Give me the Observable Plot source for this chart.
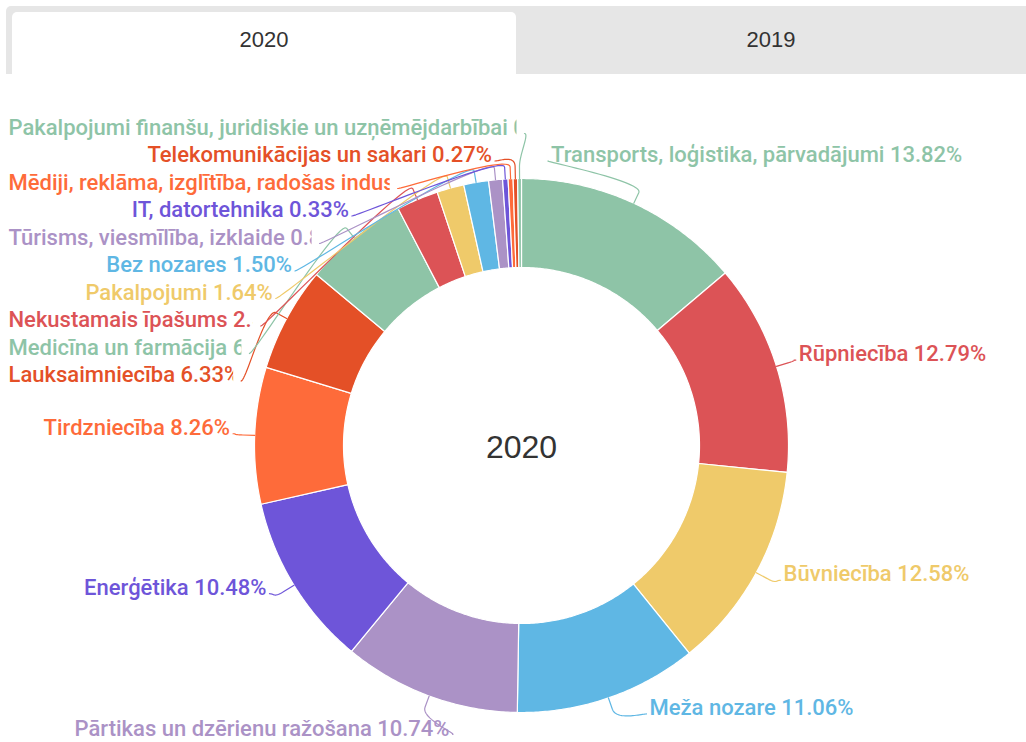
<!DOCTYPE html>
<html><head><meta charset="utf-8">
<script src="https://cdn.jsdelivr.net/npm/d3@7"></script>
<script src="https://cdn.jsdelivr.net/npm/@observablehq/plot@0.6"></script>
<style>
html,body{margin:0;padding:0;background:#fff;width:1026px;height:742px;overflow:hidden;font-family:Roboto,sans-serif}
#tabs{position:absolute;left:6px;top:6px;width:1020px;height:68px;background:#e6e6e6;border-radius:5px 0 0 0}
.tab{position:absolute;text-align:center;font:22px "Liberation Sans",Arial,sans-serif;color:#333}
#tab0{left:6px;top:6px;width:504px;height:62px;line-height:56px;background:#fff;border-radius:5px 5px 0 0}
#tab1{left:510px;top:0;width:510px;height:68px;line-height:68px}
#chart{position:absolute;left:0;top:74px}
</style>
</head><body>
<div id="tabs"><div class="tab" id="tab0"></div><div class="tab" id="tab1"></div></div>
<div id="chart"></div>
<script>
// ---- data ----
const years = ["2020", "2019"];
const sectors = [
  "Transports, loģistika, pārvadājumi",
  "Rūpniecība",
  "Būvniecība",
  "Meža nozare",
  "Pārtikas un dzērienu ražošana",
  "Enerģētika",
  "Tirdzniecība",
  "Lauksaimniecība",
  "Medicīna un farmācija",
  "Nekustamais īpašums",
  "Pakalpojumi",
  "Bez nozares",
  "Tūrisms, viesmīlība, izklaide",
  "IT, datortehnika",
  "Mēdiji, reklāma, izglītība, radošas industrijas",
  "Telekomunikācijas un sakari",
  "Pakalpojumi finanšu, juridiskie un uzņēmējdarbībai"
];
const shares2020 = [13.82, 12.79, 12.58, 11.06, 10.74, 10.48, 8.26, 6.33, 6.30, 2.53, 1.64, 1.50, 0.84, 0.33, 0.30, 0.27, 0.23];
const palette = ["#8ec4a7", "#dc5356", "#efca6a", "#5fb7e4", "#ab92c6", "#6e55d9", "#fe6b3a", "#e45027"];

// ---- layout ----
document.getElementById("tab0").textContent = years[0];
document.getElementById("tab1").textContent = years[1];
const W = 1026, H = 668, cx = 521, cy = 371;
const rOut = 267, rIn = 178;
const rowH = 27.5, slotTop = -318, nSlots = 23, natR = 285, natOff = -7, edgeR = 292, gap = 3, leftBound = 8 - cx;
const fontPx = 22;
const slotOverride = new Map([["Transports, loģistika, pārvadājumi", 1], ["Pārtikas un dzērienu ražošana", 22]]);

const total = d3.sum(shares2020);
let acc = 0;
const slices = sectors.map((name, i) => {
  const a0 = acc / total * 2 * Math.PI; acc += shares2020[i];
  const a1 = acc / total * 2 * Math.PI;
  const mid = (a0 + a1) / 2;
  return {name, value: shares2020[i], color: palette[i % palette.length], a0, a1, mid,
    side: mid > Math.PI ? "left" : "right",
    ny: natOff - natR * Math.cos(mid),
    label: `${name} ${shares2020[i].toFixed(2)}%`};
});

// slice polygons
const slicePts = slices.flatMap(s => {
  const n = Math.max(2, Math.ceil((s.a1 - s.a0) / (Math.PI / 360)));
  const angs = d3.range(n + 1).map(k => s.a0 + (s.a1 - s.a0) * k / n);
  return [
    ...angs.map(a => ({name: s.name, color: s.color, x: rOut * Math.sin(a), y: -rOut * Math.cos(a)})),
    ...angs.slice().reverse().map(a => ({name: s.name, color: s.color, x: rIn * Math.sin(a), y: -rIn * Math.cos(a)}))
  ];
});

// label slots (Highcharts-like)
function assignSlots(pts) {
  const slots = d3.range(nSlots).map(k => slotTop + k * rowH);
  const n = pts.length, L = slots.length, used = [];
  pts.forEach((p, j) => {
    let best = Infinity, si = 0;
    slots.forEach((s, k) => { if (s !== null) { const d = Math.abs(s - p.ny); if (d < best) { best = d; si = k; } } });
    if (si < j && slots[j] !== null) si = j;
    else if (L < n - j + si && slots[j] !== null) { si = L - n + j; while (slots[si] === null) si++; }
    else { while (slots[si] === null) si++; }
    used.push({i: si, y: slotTop + si * rowH}); slots[si] = null;
  });
  used.sort((a, b) => a.i - b.i);
  pts.forEach((p, j) => {
    const s = used[j]; let y = s.y;
    if ((p.ny > y && slots[s.i + 1] !== null) || (p.ny < y && slots[s.i - 1] !== null)) y = p.ny;
    p.ly = y;
  });
}
["left", "right"].forEach(side => assignSlots(slices.filter(s => s.side === side).sort((a, b) => a.ny - b.ny)));

const ctx = document.createElement("canvas").getContext("2d");
ctx.font = `500 ${fontPx}px Roboto`;
slices.forEach(s => {
  if (slotOverride.has(s.name)) s.ly = slotTop + slotOverride.get(s.name) * rowH;
  s.ly = Math.min(s.ly, H - cy - 14);
  const ex = Math.sqrt(Math.max(0, edgeR * edgeR - s.ly * s.ly));
  const w = ctx.measureText(s.label).width;
  s.clipped = false;
  if (s.side === "left") {
    s.tx = -ex; s.csx = -ex + gap;
    if (-ex - w < leftBound) { s.clipped = true; s.clipAt = cx - ex - 5; s.tx = leftBound; }
  } else {
    s.tx = ex; s.csx = ex - gap;
  }
});

// connectors (soft, fixed-offset style)
const connPts = slices.flatMap(s => {
  const L = {x: s.csx, y: s.ly + 6};
  const T = {x: rOut * Math.sin(s.mid), y: -rOut * Math.cos(s.mid)};
  const B = {x: (rOut + 12) * Math.sin(s.mid), y: -(rOut + 12) * Math.cos(s.mid)};
  const c1 = {x: L.x + (s.side === "left" ? 5 : -5), y: L.y};
  const c2 = {x: 2 * B.x - T.x, y: 2 * B.y - T.y};
  const pts = d3.range(25).map(k => {
    const t = k / 24, u = 1 - t;
    return {name: s.name, color: s.color,
      x: u*u*u*L.x + 3*u*u*t*c1.x + 3*u*t*t*c2.x + t*t*t*B.x,
      y: u*u*u*L.y + 3*u*u*t*c1.y + 3*u*t*t*c2.y + t*t*t*B.y};
  });
  pts.push({name: s.name, color: s.color, x: T.x, y: T.y});
  return pts;
});

const textOpts = {x: "tx", y: "ly", text: "label", fill: "color", fontSize: fontPx, fontWeight: 500, fontFamily: "Roboto", lineAnchor: "middle"};
const clippedData = slices.filter(s => s.clipped);

const svg = Plot.plot({
  width: W, height: H, margin: 0,
  x: {domain: [-cx, W - cx], range: [0, W], axis: null},
  y: {domain: [-cy, H - cy], range: [0, H], axis: null},
  color: {type: "identity"},
  style: {background: "white"},
  marks: [
    Plot.line(slicePts, {x: "x", y: "y", z: "name", fill: "color", stroke: "white", strokeWidth: 1.2, strokeLinejoin: "round", curve: "linear-closed"}),
    Plot.line(connPts, {x: "x", y: "y", z: "name", stroke: "color", strokeWidth: 1.2, fill: "none"}),
    Plot.text(slices.filter(s => s.side === "left" && !s.clipped), {...textOpts, textAnchor: "end"}),
    Plot.text(slices.filter(s => s.side === "right"), {...textOpts, textAnchor: "start"}),
    Plot.text(clippedData, {...textOpts, textAnchor: "start"}),
    Plot.text([years[0]], {x: () => 0, y: () => 2, text: d => d, fontSize: 32, fontFamily: "Liberation Sans", fill: "#333"})
  ]
});

// clip truncated labels at their connector (third text mark)
const NS = "http://www.w3.org/2000/svg";
const defs = document.createElementNS(NS, "defs");
svg.insertBefore(defs, svg.firstChild);
const textGroups = svg.querySelectorAll('g[aria-label="text"]');
const clipGroup = textGroups[2];
if (clipGroup) clipGroup.querySelectorAll("text").forEach((t, i) => {
  const cp = document.createElementNS(NS, "clipPath");
  cp.setAttribute("id", "lblclip" + i);
  cp.setAttribute("clipPathUnits", "userSpaceOnUse");
  const r = document.createElementNS(NS, "rect");
  r.setAttribute("x", 0); r.setAttribute("y", 0);
  r.setAttribute("width", clippedData[i].clipAt); r.setAttribute("height", H);
  cp.appendChild(r); defs.appendChild(cp);
  const g = document.createElementNS(NS, "g");
  g.setAttribute("clip-path", `url(#lblclip${i})`);
  t.parentNode.insertBefore(g, t); g.appendChild(t);
});
document.getElementById("chart").appendChild(svg);
</script>
</body></html>
